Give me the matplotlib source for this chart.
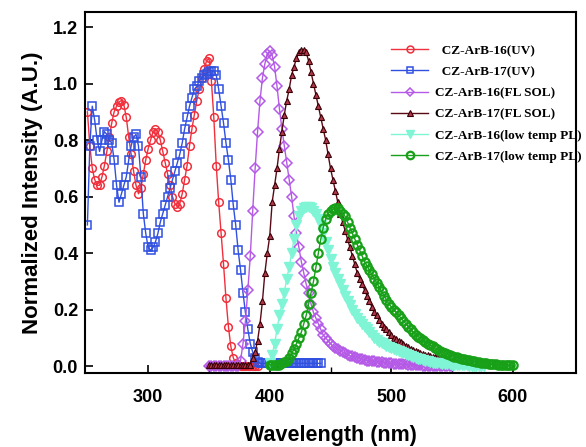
import numpy as np
import matplotlib.pyplot as plt

# wavelength grids (2 nm steps)
wl_uv16 = np.arange(250, 392, 2)
wl_uv17 = np.arange(250, 444, 2)
wl_fl16 = np.arange(350, 552, 2)
wl_fl17 = np.arange(350, 546, 2)
wl_lt16 = np.arange(400, 578, 2)
wl_lt17 = np.arange(400, 602, 2)

uv16 = [0.90, 0.78, 0.70, 0.66, 0.64, 0.64, 0.67, 0.71, 0.76, 0.81,
        0.86, 0.90, 0.92, 0.935, 0.94, 0.925, 0.88, 0.81, 0.75, 0.69,
        0.64, 0.61, 0.63, 0.68, 0.73, 0.77, 0.80, 0.83, 0.84, 0.83,
        0.80, 0.76, 0.72, 0.68, 0.64, 0.60, 0.575, 0.565, 0.575, 0.61,
        0.66, 0.71, 0.78, 0.84, 0.89, 0.94, 0.98, 1.02, 1.05, 1.08,
        1.09, 1.01, 0.88, 0.71, 0.58, 0.47, 0.36, 0.24, 0.14, 0.07,
        0.03, 0.01, 0.005, 0.0, 0.0, 0.0, 0.0, 0.0, 0.0, 0.0, 0.0]

uv17 = [0.50, 0.78, 0.92, 0.87, 0.80, 0.76, 0.80, 0.83, 0.82, 0.80,
        0.79, 0.73, 0.64, 0.58, 0.61, 0.64, 0.67, 0.73, 0.78, 0.81,
        0.82, 0.78, 0.67, 0.54, 0.47, 0.42, 0.41, 0.42, 0.44, 0.47,
        0.51, 0.54, 0.57, 0.60, 0.63, 0.66, 0.69, 0.72, 0.75, 0.79,
        0.84, 0.88, 0.92, 0.95, 0.98, 0.99, 1.01, 1.02, 1.03, 1.035,
        1.04, 1.045, 1.045, 1.03, 0.98, 0.92, 0.86, 0.79, 0.73, 0.66,
        0.57, 0.50, 0.41, 0.34, 0.26, 0.19, 0.13, 0.08, 0.05, 0.03,
        0.015] + [0.01] * 26

fl16 = [0.0] * 13 + [
        0.02, 0.08, 0.16, 0.27, 0.39, 0.55, 0.70, 0.83, 0.94, 1.02,
        1.07, 1.105, 1.115, 1.10, 1.06, 0.99, 0.91, 0.84, 0.78, 0.72,
        0.66, 0.60, 0.53, 0.47, 0.42, 0.37, 0.33, 0.29, 0.26, 0.22,
        0.19, 0.17, 0.15, 0.13, 0.11, 0.10, 0.09, 0.08, 0.07, 0.065,
        0.06, 0.055, 0.05, 0.045, 0.04, 0.037, 0.035, 0.032, 0.03, 0.027,
        0.025, 0.022, 0.02, 0.019, 0.018, 0.017, 0.016, 0.015, 0.014, 0.013,
        0.012, 0.011, 0.010, 0.009, 0.009, 0.008, 0.007, 0.006, 0.006, 0.005,
        0.005, 0.004, 0.004, 0.003, 0.003, 0.002, 0.002, 0.001, 0.001, 0.001,
        0.0, 0.0, 0.0, 0.0, 0.0, 0.0, 0.0, 0.0]

fl17 = [0.005] * 18 + [
        0.03, 0.05, 0.09, 0.15, 0.23, 0.33, 0.40, 0.46, 0.58, 0.64,
        0.70, 0.77, 0.83, 0.89, 0.94, 0.98, 1.03, 1.06, 1.09, 1.11,
        1.12, 1.12, 1.11, 1.08, 1.04, 1.00, 0.96, 0.92, 0.88, 0.84,
        0.80, 0.75, 0.70, 0.66, 0.62, 0.58, 0.54, 0.51, 0.48, 0.45,
        0.42, 0.39, 0.36, 0.33, 0.31, 0.29, 0.27, 0.25, 0.23, 0.21,
        0.19, 0.18, 0.165, 0.15, 0.14, 0.13, 0.12, 0.11, 0.10, 0.095,
        0.09, 0.085, 0.08, 0.073, 0.067, 0.062, 0.057, 0.053, 0.05, 0.046,
        0.043, 0.04, 0.038, 0.036, 0.034, 0.032, 0.031, 0.03, 0.03, 0.03]

lt16 = [0.01, 0.04, 0.08, 0.13, 0.18, 0.22, 0.26, 0.31, 0.35, 0.40,
        0.45, 0.50, 0.53, 0.55, 0.56, 0.565, 0.565, 0.56, 0.55, 0.54,
        0.52, 0.50, 0.47, 0.44, 0.41, 0.38, 0.35, 0.33, 0.31, 0.29,
        0.27, 0.25, 0.23, 0.215, 0.20, 0.185, 0.17, 0.16, 0.15, 0.14,
        0.13, 0.12, 0.11, 0.10, 0.093, 0.087, 0.082, 0.077, 0.072, 0.067,
        0.063, 0.06, 0.056, 0.052, 0.049, 0.045, 0.042, 0.039, 0.036, 0.033,
        0.03, 0.027, 0.025, 0.022, 0.02, 0.017, 0.015, 0.013, 0.012, 0.011,
        0.01, 0.009, 0.008, 0.007, 0.006, 0.0055, 0.005, 0.0045, 0.004, 0.0035,
        0.003, 0.0025, 0.002, 0.0015, 0.001, 0.0005, 0.0, 0.0, 0.0]

lt17 = [0.005, 0.005, 0.005, 0.005, 0.005, 0.01, 0.015, 0.02, 0.03, 0.045,
        0.06, 0.08, 0.10, 0.12, 0.15, 0.18, 0.22, 0.26, 0.30, 0.35,
        0.40, 0.45, 0.49, 0.52, 0.54, 0.55, 0.555, 0.56, 0.56, 0.55,
        0.54, 0.53, 0.51, 0.49, 0.47, 0.45, 0.43, 0.41, 0.39, 0.37,
        0.355, 0.34, 0.325, 0.31, 0.295, 0.28, 0.265, 0.25, 0.235, 0.22,
        0.21, 0.20, 0.19, 0.18, 0.17, 0.16, 0.15, 0.14, 0.13, 0.12,
        0.112, 0.105, 0.098, 0.092, 0.086, 0.08, 0.075, 0.07, 0.065, 0.06,
        0.055, 0.05, 0.046, 0.043, 0.04, 0.037, 0.034, 0.032, 0.029, 0.027,
        0.025, 0.023, 0.021, 0.019, 0.017, 0.016, 0.014, 0.013, 0.011, 0.010,
        0.009, 0.008, 0.007, 0.006, 0.005, 0.005, 0.004, 0.004, 0.003, 0.003,
        0.003]

labels = ['  CZ-ArB-16(UV)', '  CZ-ArB-17(UV)', 'CZ-ArB-16(FL SOL)',
          'CZ-ArB-17(FL SOL)', 'CZ-ArB-16(low temp PL)', 'CZ-ArB-17(low temp PL)']
yticks = [0.0, 0.2, 0.4, 0.6, 0.8, 1.0, 1.2]

fig = plt.figure(figsize=(5.86, 4.47), dpi=100)
ax = fig.add_axes([0.145, 0.165, 0.838, 0.808])

ax.plot(wl_uv16, uv16, '-o', color='#f0303c', lw=1, ms=5.5, mfc='none', mew=1.1, label=labels[0])
ax.plot(wl_uv17, uv17, '-s', color='#3050e0', lw=1, ms=5.5, mfc='none', mew=1.1, label=labels[1])
ax.plot(wl_fl16, fl16, '-D', color='#b45ae6', lw=1, ms=5, mfc='none', mew=1.1, label=labels[2])
ax.plot(wl_fl17, fl17, '-^', color='#5a0a14', lw=1, ms=5, mfc='#b03848', mec='#3a0008', mew=0.8, label=labels[3])
ax.plot(wl_lt16, lt16, '-v', color='#80f5d6', lw=1, ms=6.5, mfc='#80f5d6', mec='#80f5d6', label=labels[4])
ax.plot(wl_lt17, lt17, '-o', color='#18a018', lw=1, ms=6, mfc='none', mec='#18a018', mew=1.6, label=labels[5])

ax.set_xlim(248, 652)
ax.set_ylim(-0.025, 1.253)
ax.set_xticks([300, 400, 500, 600])
ax.set_xticks([350, 450, 550], minor=True)
ax.set_yticks(yticks)
ax.set_yticklabels(['%.1f' % v for v in yticks])
ax.tick_params(direction='in', length=6, width=1.2, labelsize=13)
ax.tick_params(axis='x', pad=11)
ax.tick_params(axis='y', pad=5)
ax.tick_params(which='minor', direction='in', length=4, width=1)
for t in ax.get_xticklabels() + ax.get_yticklabels():
    t.set_fontweight('bold')
    t.set_family('Liberation Sans')
for s in ax.spines.values():
    s.set_linewidth(1.5)

ax.set_xlabel('Wavelength (nm)', fontsize=15.5, fontweight='bold', family='Liberation Sans', labelpad=14)
ax.set_ylabel('Normalized Intensity (A.U.)', fontsize=16, fontweight='bold', family='Liberation Sans', labelpad=7)

leg = ax.legend(loc='upper left', bbox_to_anchor=(0.61, 0.928), frameon=False,
                prop={'family': 'Liberation Serif', 'weight': 'bold', 'size': 9.5},
                handlelength=2.8, handletextpad=0.5, labelspacing=0.68, borderpad=0,
                markerscale=0.9)

fig.savefig('out.png', dpi=100)
